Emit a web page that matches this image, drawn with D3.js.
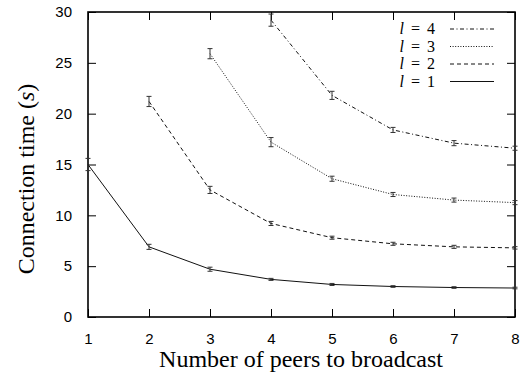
<!DOCTYPE html>
<html>
<head>
<meta charset="utf-8">
<script src="https://cdn.jsdelivr.net/npm/d3@7"></script>
<style>
body { margin: 0; background: #fff; }
.serif { font-family: "Liberation Serif", "Times New Roman", serif; }
</style>
</head>
<body>
<script>
// data
var peers = [1, 2, 3, 4, 5, 6, 7, 8];
var l1 = [15.0, 6.9, 4.7, 3.7, 3.2, 3.0, 2.9, 2.85];
var l1err = [0.6, 0.25, 0.2, 0.1, 0.1, 0.08, 0.08, 0.08];
var l2 = [null, 21.2, 12.5, 9.2, 7.8, 7.2, 6.9, 6.8];
var l2err = [null, 0.5, 0.35, 0.2, 0.15, 0.15, 0.15, 0.12];
var l3 = [null, null, 25.9, 17.2, 13.6, 12.05, 11.5, 11.25];
var l3err = [null, null, 0.5, 0.45, 0.25, 0.2, 0.2, 0.2];
var l4 = [null, null, null, 29.2, 21.8, 18.4, 17.1, 16.6];
var l4err = [null, null, null, 0.6, 0.4, 0.25, 0.25, 0.2];
var yTicks = [0, 5, 10, 15, 20, 25, 30];
var legendLabels = ["4", "3", "2", "1"];

window.onload = function(){
    var w = 531, h = 380;
    var left = 88, right = 515, top = 12, bottom = 317;

    var svg = d3.select("body")
        .append("svg")
        .attr("width", w)
        .attr("height", h)
        .attr("class", "container");

    var x = d3.scaleLinear().domain([1, 8]).range([left, right]);
    var y = d3.scaleLinear().domain([0, 30]).range([bottom, top]);

    var tickFont = "'Liberation Sans', Arial, sans-serif";

    //axes with inward ticks
    var gx = svg.append("g").attr("transform", "translate(0," + bottom + ")")
        .call(d3.axisBottom(x).tickValues(peers).tickSize(-8).tickPadding(16).tickFormat(d3.format("d")));
    var gxTop = svg.append("g").attr("transform", "translate(0," + top + ")")
        .call(d3.axisTop(x).tickValues(peers).tickSize(-8).tickFormat(""));
    var gy = svg.append("g").attr("transform", "translate(" + left + ",0)")
        .call(d3.axisLeft(y).tickValues(yTicks).tickSize(-8).tickPadding(16));
    var gyR = svg.append("g").attr("transform", "translate(" + right + ",0)")
        .call(d3.axisRight(y).tickValues(yTicks).tickSize(-8).tickFormat(""));

    [gx, gxTop, gy, gyR].forEach(function(g){
        g.select(".domain").remove();
        g.selectAll("line").attr("stroke", "#000").attr("stroke-width", 1);
        g.selectAll("text").attr("fill", "#000")
            .style("font-family", tickFont).style("font-size", "15px");
    });
    gx.selectAll("text").attr("dy", "0.7em");

    svg.append("rect")
        .attr("x", left).attr("y", top)
        .attr("width", right - left).attr("height", bottom - top)
        .attr("fill", "none").attr("stroke", "#000").attr("stroke-width", 1.6);

    var series = [
        {vals: l1, err: l1err, dash: null},
        {vals: l2, err: l2err, dash: "4,3"},
        {vals: l3, err: l3err, dash: "1,1.6"},
        {vals: l4, err: l4err, dash: "4,2.5,1,2.5"}
    ];

    var line = d3.line()
        .defined(function(d){ return d.v != null; })
        .x(function(d){ return x(d.p); })
        .y(function(d){ return y(d.v); });

    series.forEach(function(s){
        var pts = peers.map(function(p, i){ return {p: p, v: s.vals[i], e: s.err[i]}; })
            .filter(function(d){ return d.v != null; });

        svg.append("path")
            .datum(pts)
            .attr("class", "series")
            .attr("d", line)
            .attr("fill", "none")
            .attr("stroke", "#111")
            .attr("stroke-width", 1)
            .attr("stroke-dasharray", s.dash);

        var eb = svg.selectAll(null)
            .data(pts)
            .enter()
            .append("g")
            .attr("stroke", "#333")
            .attr("stroke-width", 1);
        eb.append("line")
            .attr("x1", function(d){ return x(d.p); })
            .attr("x2", function(d){ return x(d.p); })
            .attr("y1", function(d){ return y(d.v - d.e); })
            .attr("y2", function(d){ return y(d.v + d.e); });
        eb.append("line")
            .attr("x1", function(d){ return x(d.p) - 2.5; })
            .attr("x2", function(d){ return x(d.p) + 2.5; })
            .attr("y1", function(d){ return y(d.v - d.e); })
            .attr("y2", function(d){ return y(d.v - d.e); });
        eb.append("line")
            .attr("x1", function(d){ return x(d.p) - 2.5; })
            .attr("x2", function(d){ return x(d.p) + 2.5; })
            .attr("y1", function(d){ return y(d.v + d.e); })
            .attr("y2", function(d){ return y(d.v + d.e); });
    });

    //legend
    var legendDash = ["4,2.5,1,2.5", "1,1.6", "4,3", null];
    var leg = svg.selectAll(".legend")
        .data(legendLabels)
        .enter()
        .append("g")
        .attr("class", "legend")
        .attr("transform", function(d, i){ return "translate(0," + (29 + i * 17.5) + ")"; });
    leg.append("text")
        .attr("class", "serif")
        .attr("x", 435)
        .attr("y", 5)
        .attr("text-anchor", "end")
        .style("font-size", "16px")
        .each(function(d){
            var t = d3.select(this);
            t.append("tspan").style("font-style", "italic").text("l");
            t.append("tspan").attr("dx", 7).text("=");
            t.append("tspan").attr("dx", 7).text(d);
        });
    leg.append("line")
        .attr("x1", 450).attr("x2", 494)
        .attr("y1", 0).attr("y2", 0)
        .attr("stroke", "#111")
        .attr("stroke-width", 1)
        .attr("stroke-dasharray", function(d, i){ return legendDash[i]; });

    //axis titles
    svg.append("text")
        .attr("class", "serif")
        .attr("x", 301)
        .attr("y", 367)
        .attr("text-anchor", "middle")
        .style("font-size", "24px")
        .text("Number of peers to broadcast");

    var yt = svg.append("text")
        .attr("class", "serif")
        .attr("transform", "translate(34,179) rotate(-90)")
        .attr("text-anchor", "middle")
        .style("font-size", "24px");
    yt.append("tspan").text("Connection time (");
    yt.append("tspan").style("font-style", "italic").text("s");
    yt.append("tspan").text(")");
};
</script>
</body>
</html>
